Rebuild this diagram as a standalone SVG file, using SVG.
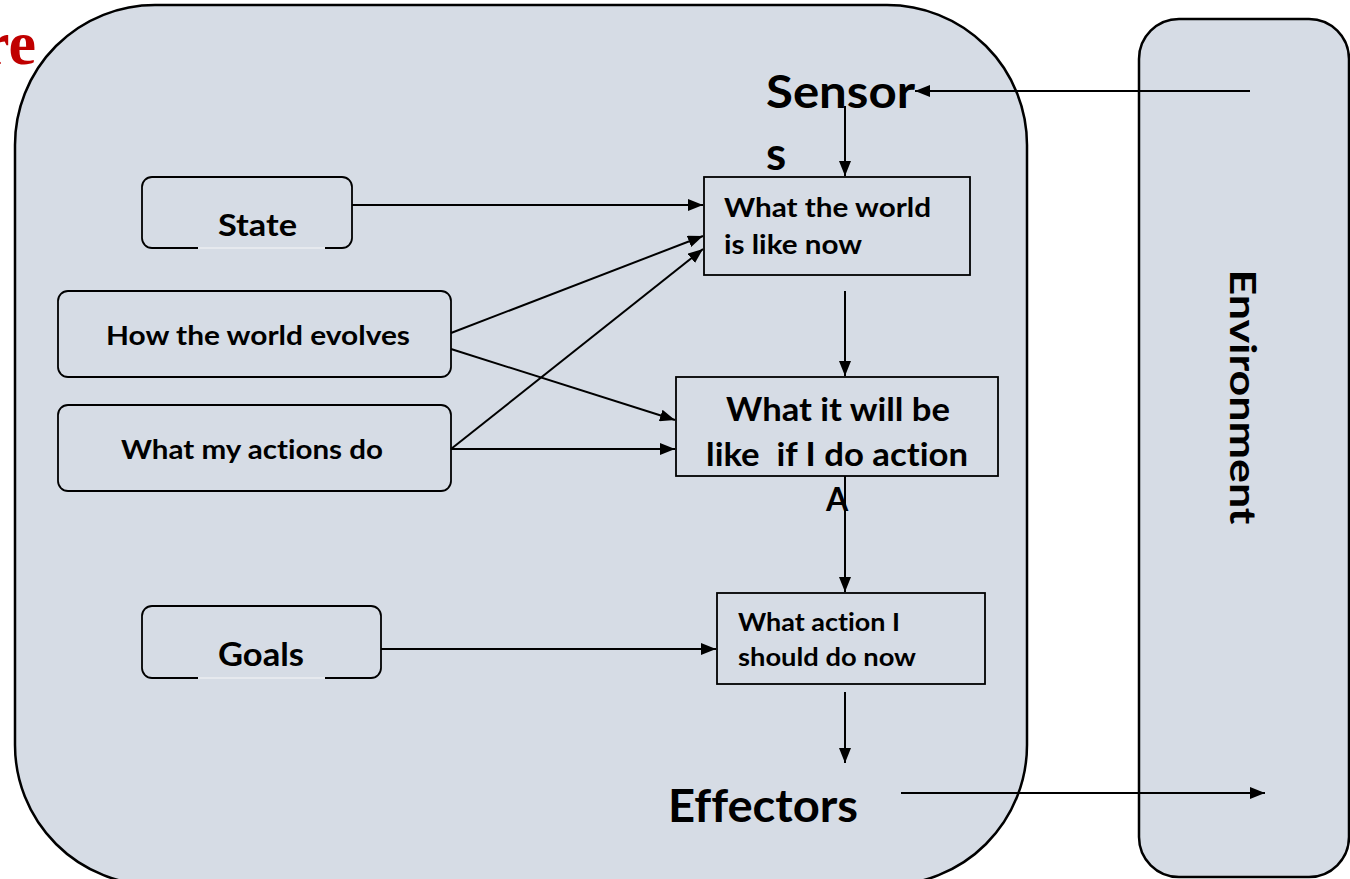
<svg xmlns="http://www.w3.org/2000/svg" width="1350" height="879" viewBox="0 0 1350 879">
  <style>
    .panel { fill: #d6dce5; stroke: #000; stroke-width: 2.5; }
    .box { fill: #d6dce5; stroke: #000; stroke-width: 1.8; }
    .gap { stroke: #e6e9ee; stroke-width: 2; }
    .lbl { font-family: Lato, "Open Sans", sans-serif; font-weight: bold; fill: #000; font-variant-ligatures: none; font-feature-settings: "liga" 0, "clig" 0; }
    .link { stroke: #000; stroke-width: 2; fill: none; marker-end: url(#arrow); }
  </style>
  <defs>
    <marker id="arrow" viewBox="0 0 15 12" refX="15" refY="6" markerWidth="15" markerHeight="12" markerUnits="userSpaceOnUse" orient="auto">
      <path d="M0,0 L15,6 L0,12 z" fill="#000"/>
    </marker>
  </defs>

  <!-- title fragment -->
  <text x="36" y="64" text-anchor="end" font-family="'Liberation Serif', serif" font-weight="bold" font-size="62" fill="#c00000">re</text>

  <!-- agent panel -->
  <g id="agent">
    <rect class="panel" x="15" y="5" width="1012" height="880" rx="140" ry="140"/>
  </g>

  <!-- environment panel -->
  <g id="environment">
    <rect class="panel" x="1139" y="19" width="210" height="858" rx="40" ry="40"/>
    <text class="lbl" font-size="36" text-anchor="middle" textLength="255" lengthAdjust="spacingAndGlyphs" transform="translate(1230,397) rotate(90)">Environment</text>
  </g>

  <g id="sensors">
    <text class="lbl" font-size="46" x="766" y="108" textLength="149" lengthAdjust="spacingAndGlyphs">Sensor</text>
    <text class="lbl" font-size="46" x="766" y="170">s</text>
  </g>

  <g id="effectors">
    <text class="lbl" font-size="46" x="668" y="822" textLength="190" lengthAdjust="spacingAndGlyphs">Effectors</text>
  </g>

  <g id="state">
    <rect class="box" x="142" y="177" width="210" height="71" rx="10"/>
    <line class="gap" x1="198" y1="248" x2="325" y2="248"/>
    <text class="lbl" font-size="30" x="218" y="236" textLength="79" lengthAdjust="spacingAndGlyphs">State</text>
  </g>

  <g id="evolves">
    <rect class="box" x="58" y="291" width="393" height="86" rx="10"/>
    <text class="lbl" font-size="26" x="106" y="345" textLength="304" lengthAdjust="spacingAndGlyphs">How the world evolves</text>
  </g>

  <g id="actions">
    <rect class="box" x="58" y="405" width="393" height="86" rx="10"/>
    <text class="lbl" font-size="26" x="121" y="459" textLength="262" lengthAdjust="spacingAndGlyphs">What my actions do</text>
  </g>

  <g id="goals">
    <rect class="box" x="142" y="606" width="239" height="72" rx="10"/>
    <line class="gap" x1="198" y1="678" x2="325" y2="678"/>
    <text class="lbl" font-size="32" x="218" y="666" textLength="86" lengthAdjust="spacingAndGlyphs">Goals</text>
  </g>

  <g id="world-now">
    <rect class="box" x="704" y="177" width="266" height="98"/>
    <text class="lbl" font-size="26" x="724" y="217" textLength="207" lengthAdjust="spacingAndGlyphs">What the world</text>
    <text class="lbl" font-size="26" x="724" y="254" textLength="138" lengthAdjust="spacingAndGlyphs">is like now</text>
  </g>

  <g id="if-action">
    <rect class="box" x="676" y="377" width="322" height="99"/>
    <text class="lbl" font-size="32" x="726" y="421" textLength="224" lengthAdjust="spacingAndGlyphs">What it will be</text>
    <text class="lbl" font-size="32" x="706" y="466" textLength="262" lengthAdjust="spacingAndGlyphs" xml:space="preserve">like  if I do action</text>
    <text class="lbl" font-size="32" x="837" y="511" text-anchor="middle">A</text>
  </g>

  <g id="decide">
    <rect class="box" x="717" y="593" width="268" height="91"/>
    <text class="lbl" font-size="25" x="738" y="631" textLength="162" lengthAdjust="spacingAndGlyphs">What action I</text>
    <text class="lbl" font-size="25" x="738" y="666" textLength="178" lengthAdjust="spacingAndGlyphs">should do now</text>
  </g>

  <g id="connectors">
    <line class="link" x1="1250" y1="91" x2="915" y2="91"/>
    <line class="link" x1="845" y1="106" x2="845" y2="176"/>
    <line class="link" x1="352" y1="205" x2="703" y2="205"/>
    <line class="link" x1="451" y1="333" x2="703" y2="236"/>
    <line class="link" x1="451" y1="349" x2="675" y2="420"/>
    <line class="link" x1="451" y1="449" x2="703" y2="249"/>
    <line class="link" x1="451" y1="449" x2="675" y2="449"/>
    <line class="link" x1="845" y1="291" x2="845" y2="376"/>
    <line class="link" x1="845" y1="476" x2="845" y2="592"/>
    <line class="link" x1="381" y1="649" x2="716" y2="649"/>
    <line class="link" x1="845" y1="692" x2="845" y2="763"/>
    <line class="link" x1="901" y1="793" x2="1265" y2="793"/>
  </g>
</svg>
